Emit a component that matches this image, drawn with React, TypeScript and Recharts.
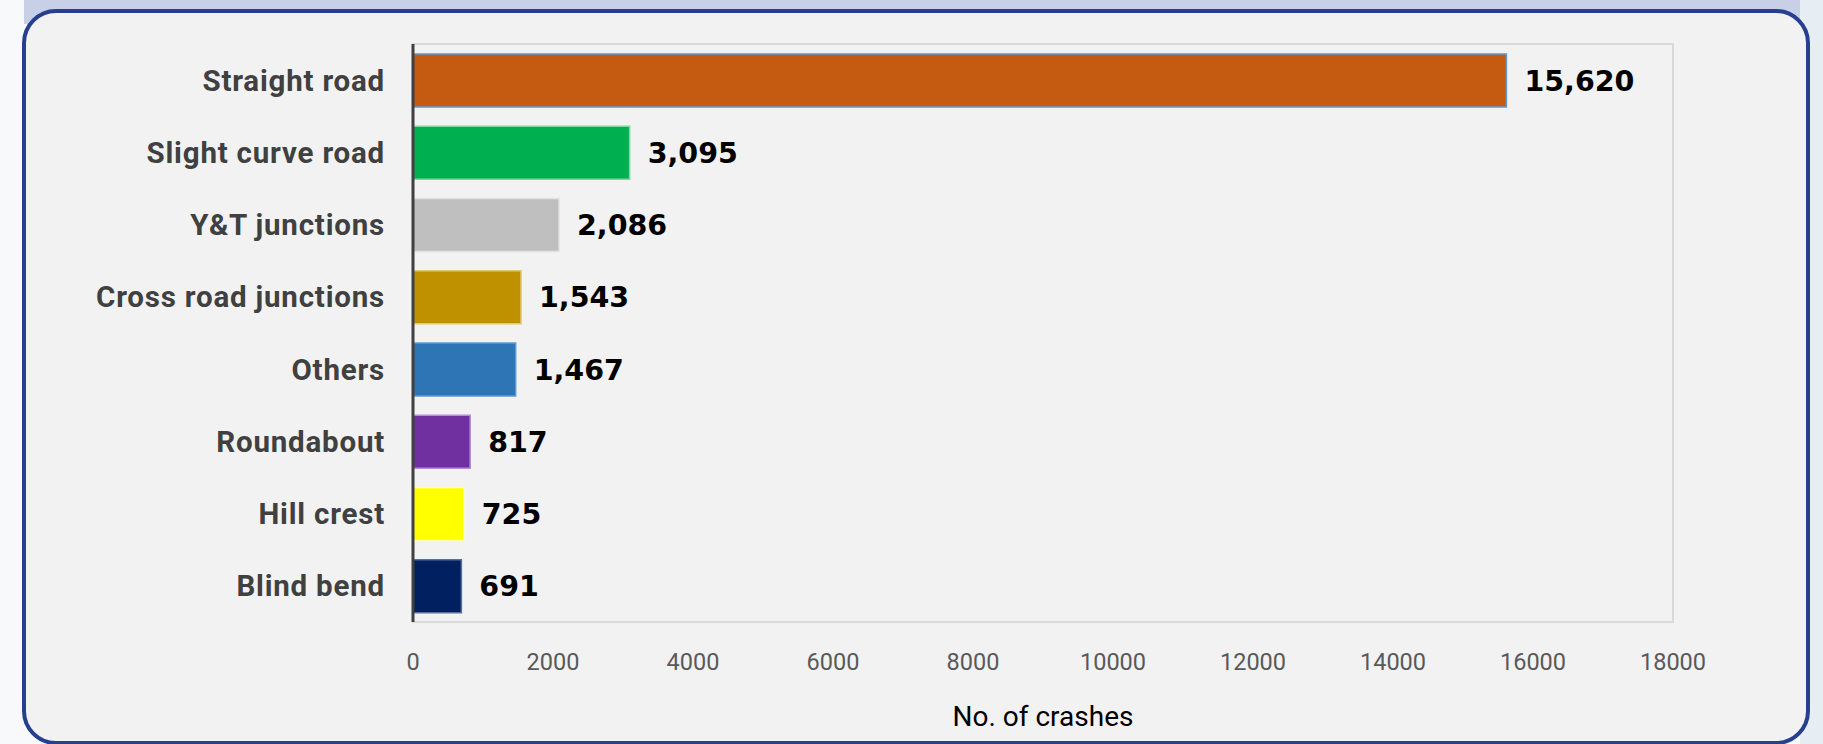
import React from "react";
import {
  BarChart,
  Bar,
  XAxis,
  YAxis,
  Cell,
  LabelList,
  Label,
  ReferenceArea,
} from "recharts";

const categories = [
  "Straight road",
  "Slight curve road",
  "Y&T junctions",
  "Cross road junctions",
  "Others",
  "Roundabout",
  "Hill crest",
  "Blind bend",
];
const crashes = [15620, 3095, 2086, 1543, 1467, 817, 725, 691];
const fills = ["#C55A11", "#00B050", "#BFBFBF", "#BF9000", "#2E75B6", "#7030A0", "#FFFF00", "#002060"];
const strokes = ["#5B9BD5", "#7ED9A3", "#E2E2E2", "#E2C770", "#5B9BD5", "#B58CD6", "#FFFFB0", "#5A6E9A"];
const xTicks = [0, 2000, 4000, 6000, 8000, 10000, 12000, 14000, 16000, 18000];
const axisTitle = "No. of crashes";

const data = categories.map((name, i) => ({ name, value: crashes[i] }));

export default function App() {
  return (
    <div style={{ position: "absolute", left: 0, top: 0, width: 1823, height: 744, background: "#f8f9fa", overflow: "hidden" }}>
      <div style={{ position: "absolute", left: 24, top: 0, width: 1776, height: 24, background: "#c8d0e8" }} />
      <div style={{ position: "absolute", left: 1800, top: 0, width: 23, height: 744, background: "#e6edf3" }} />
      <div
        style={{
          position: "absolute",
          left: 22,
          top: 9,
          width: 1788,
          height: 736,
          boxSizing: "border-box",
          border: "4px solid #263f8f",
          borderRadius: 34,
          background: "#f2f2f2",
        }}
      />
      <div style={{ position: "absolute", left: 0, top: 0 }}>
        <BarChart
          width={1823}
          height={744}
          data={data}
          layout="vertical"
          margin={{ top: 44, right: 150, bottom: 62, left: 0 }}
        >
          <ReferenceArea x1={0} x2={18000} fill="none" stroke="#d9d9d9" strokeWidth={2} />
          <XAxis
            type="number"
            domain={[0, 18000]}
            ticks={xTicks}
            interval={0}
            height={60}
            tickLine={false}
            tickSize={0}
            tickMargin={31}
            axisLine={{ stroke: "#d9d9d9", strokeWidth: 2 }}
            tick={{ fill: "#595959", fontFamily: "Roboto", fontSize: 23.5 }}
          >
            <Label
              value={axisTitle}
              position="bottom"
              offset={24}
              style={{ fill: "#000000", fontFamily: "Roboto", fontSize: 28 }}
            />
          </XAxis>
          <YAxis
            type="category"
            dataKey="name"
            width={413}
            tickLine={false}
            tickSize={0}
            tickMargin={28}
            axisLine={{ stroke: "#404040", strokeWidth: 3 }}
            tick={{ fill: "#404040", fontFamily: "Roboto", fontWeight: 700, fontSize: 29.5, letterSpacing: 0.8 }}
          />
          <Bar dataKey="value" barSize={53} isAnimationActive={false} strokeWidth={1.5}>
            {data.map((d, i) => (
              <Cell key={d.name} fill={fills[i]} stroke={strokes[i]} />
            ))}
            <LabelList
              dataKey="value"
              position="right"
              offset={18}
              formatter={(v: number) => v.toLocaleString("en-US")}
              style={{ fill: "#000000", fontFamily: "DejaVu Sans", fontWeight: 700, fontSize: 28.5 }}
            />
          </Bar>
        </BarChart>
      </div>
    </div>
  );
}
